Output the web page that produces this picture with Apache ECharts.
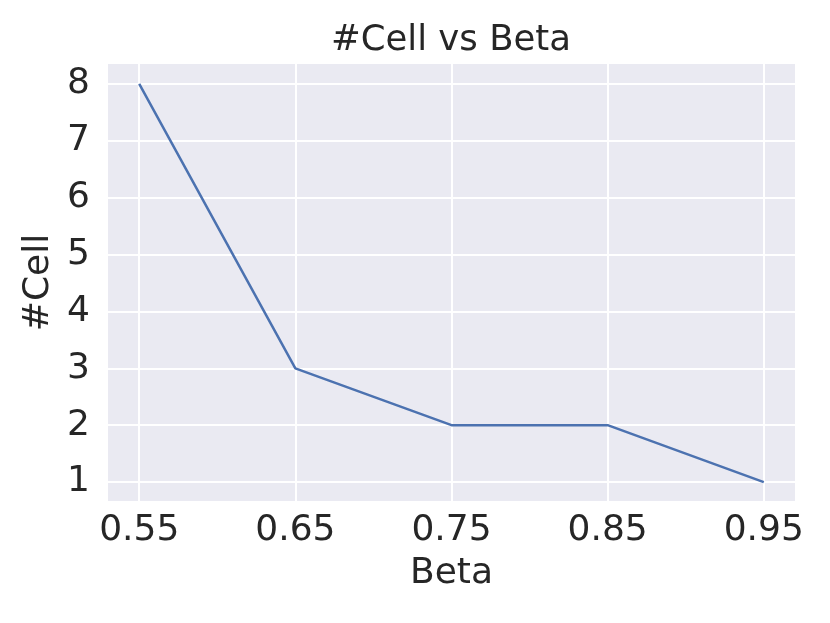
<!DOCTYPE html>
<html>
<head>
<meta charset="utf-8">
<script src="https://cdn.jsdelivr.net/npm/echarts@6/dist/echarts.min.js"></script>
<style>
  html, body { margin: 0; padding: 0; background: #fff; }
  #chart { width: 830px; height: 623px; }
</style>
</head>
<body>
<div id="chart"></div>
<script>
// Data
const betaValues = [0.55, 0.65, 0.75, 0.85, 0.95];
const cellCounts = [8, 3, 2, 2, 1];
const xTicks = [0.55, 0.65, 0.75, 0.85, 0.95];
const yTicks = [1, 2, 3, 4, 5, 6, 7, 8];

const textColor = "#262626";
const font = "DejaVu Sans";

const chart = echarts.init(document.getElementById("chart"));
chart.setOption({
  animation: false,
  backgroundColor: "#ffffff",
  title: {
    text: "#Cell vs Beta",
    left: 446,
    textAlign: "center",
    top: 18,
    textStyle: { fontFamily: font, fontSize: 35.5, fontWeight: "normal", color: textColor },
  },
  grid: {
    left: 108,
    right: 35,
    top: 64,
    bottom: 122,
    show: true,
    backgroundColor: "#EAEAF2",
    borderWidth: 0,
  },
  xAxis: {
    type: "value",
    min: 0.53,
    max: 0.97,
    name: "Beta",
    nameLocation: "middle",
    nameGap: 55,
    nameTextStyle: { fontFamily: font, fontSize: 36, color: textColor },
    axisLine: { show: false },
    axisTick: { show: false, customValues: xTicks },
    axisLabel: {
      customValues: xTicks,
      formatter: (v) => v.toFixed(2),
      fontFamily: font,
      fontSize: 36,
      color: textColor,
      margin: 12,
    },
    splitLine: { show: true, lineStyle: { color: "#ffffff", width: 2 } },
  },
  yAxis: {
    type: "value",
    min: 0.667,
    max: 8.35,
    name: "#Cell",
    nameLocation: "middle",
    nameGap: 46,
    nameRotate: 90,
    nameTextStyle: { fontFamily: font, fontSize: 36, color: textColor },
    axisLine: { show: false },
    axisTick: { show: false, customValues: yTicks },
    axisLabel: {
      customValues: yTicks,
      fontFamily: font,
      fontSize: 36,
      color: textColor,
      margin: 18,
    },
    splitLine: { show: true, lineStyle: { color: "#ffffff", width: 2 } },
  },
  series: [
    {
      type: "line",
      data: betaValues.map((b, i) => [b, cellCounts[i]]),
      showSymbol: false,
      lineStyle: { color: "#4C72B0", width: 2.5 },
    },
  ],
});
</script>
</body>
</html>
